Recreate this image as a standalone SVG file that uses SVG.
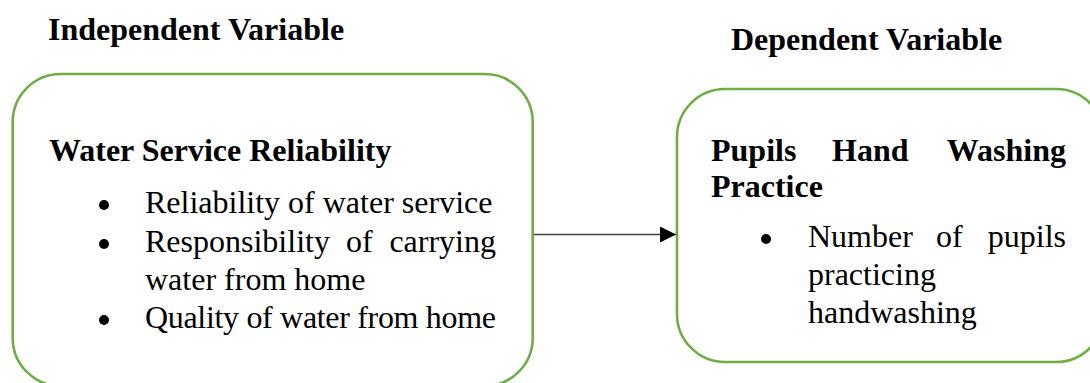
<svg xmlns="http://www.w3.org/2000/svg" width="1090" height="383" viewBox="0 0 1090 383">
<style>
.box{fill:#fff;stroke:#70AD47;stroke-width:2.6}
.h{font-family:'Liberation Serif',Tinos,'Times New Roman','DejaVu Serif',serif;font-weight:bold;font-size:32px;fill:#000}
.t{font-family:'Liberation Serif',Tinos,'Times New Roman','DejaVu Serif',serif;font-size:32px;fill:#000}
.b{font-family:'Liberation Serif',Tinos,'Times New Roman','DejaVu Serif',serif;font-weight:bold;font-size:32px;fill:#000}
.dot{fill:#000}
.conn{stroke:#404040;stroke-width:1.4;fill:none}
</style>
<defs>
<marker id="arr" markerUnits="userSpaceOnUse" markerWidth="18" markerHeight="16" refX="16" refY="8" orient="auto">
<path d="M0,0 L16,8 L0,16 Z" fill="#000"/>
</marker>
</defs>
<rect width="1090" height="383" fill="#fff"/>
<g id="label-independent"><text class="h" x="48" y="40">Independent Variable</text></g>
<g id="label-dependent"><text class="h" x="731" y="50">Dependent Variable</text></g>
<g id="node-water">
<rect class="box" x="12.7" y="74" width="520" height="312" rx="48" ry="48"/>
<text class="b" x="49" y="161">Water Service Reliability</text>
<circle class="dot" cx="104" cy="205" r="5"/>
<text class="t" x="145" y="213">Reliability of water service</text>
<circle class="dot" cx="104" cy="244" r="5"/>
<text class="t" x="145" y="252">Responsibility</text>
<text class="t" x="346" y="252">of</text>
<text class="t" x="496" y="252" text-anchor="end">carrying</text>
<text class="t" x="145" y="290">water from home</text>
<circle class="dot" cx="104" cy="320" r="5"/>
<text class="t" x="145" y="328" textLength="351" lengthAdjust="spacing">Quality of water from home</text>
</g>
<g id="node-handwashing">
<rect class="box" x="677" y="89" width="427" height="273" rx="48" ry="48"/>
<text class="b" x="711" y="161">Pupils</text>
<text class="b" x="832" y="161">Hand</text>
<text class="b" x="1066" y="161" text-anchor="end">Washing</text>
<text class="b" x="711" y="197">Practice</text>
<circle class="dot" cx="766" cy="239" r="5"/>
<text class="t" x="808" y="247">Number</text>
<text class="t" x="936" y="247">of</text>
<text class="t" x="1066" y="247" text-anchor="end">pupils</text>
<text class="t" x="808" y="285">practicing</text>
<text class="t" x="808" y="323">handwashing</text>
</g>
<g id="connectors">
<line class="conn" x1="534" y1="234.5" x2="676" y2="234.5" marker-end="url(#arr)"/>
</g>
</svg>
